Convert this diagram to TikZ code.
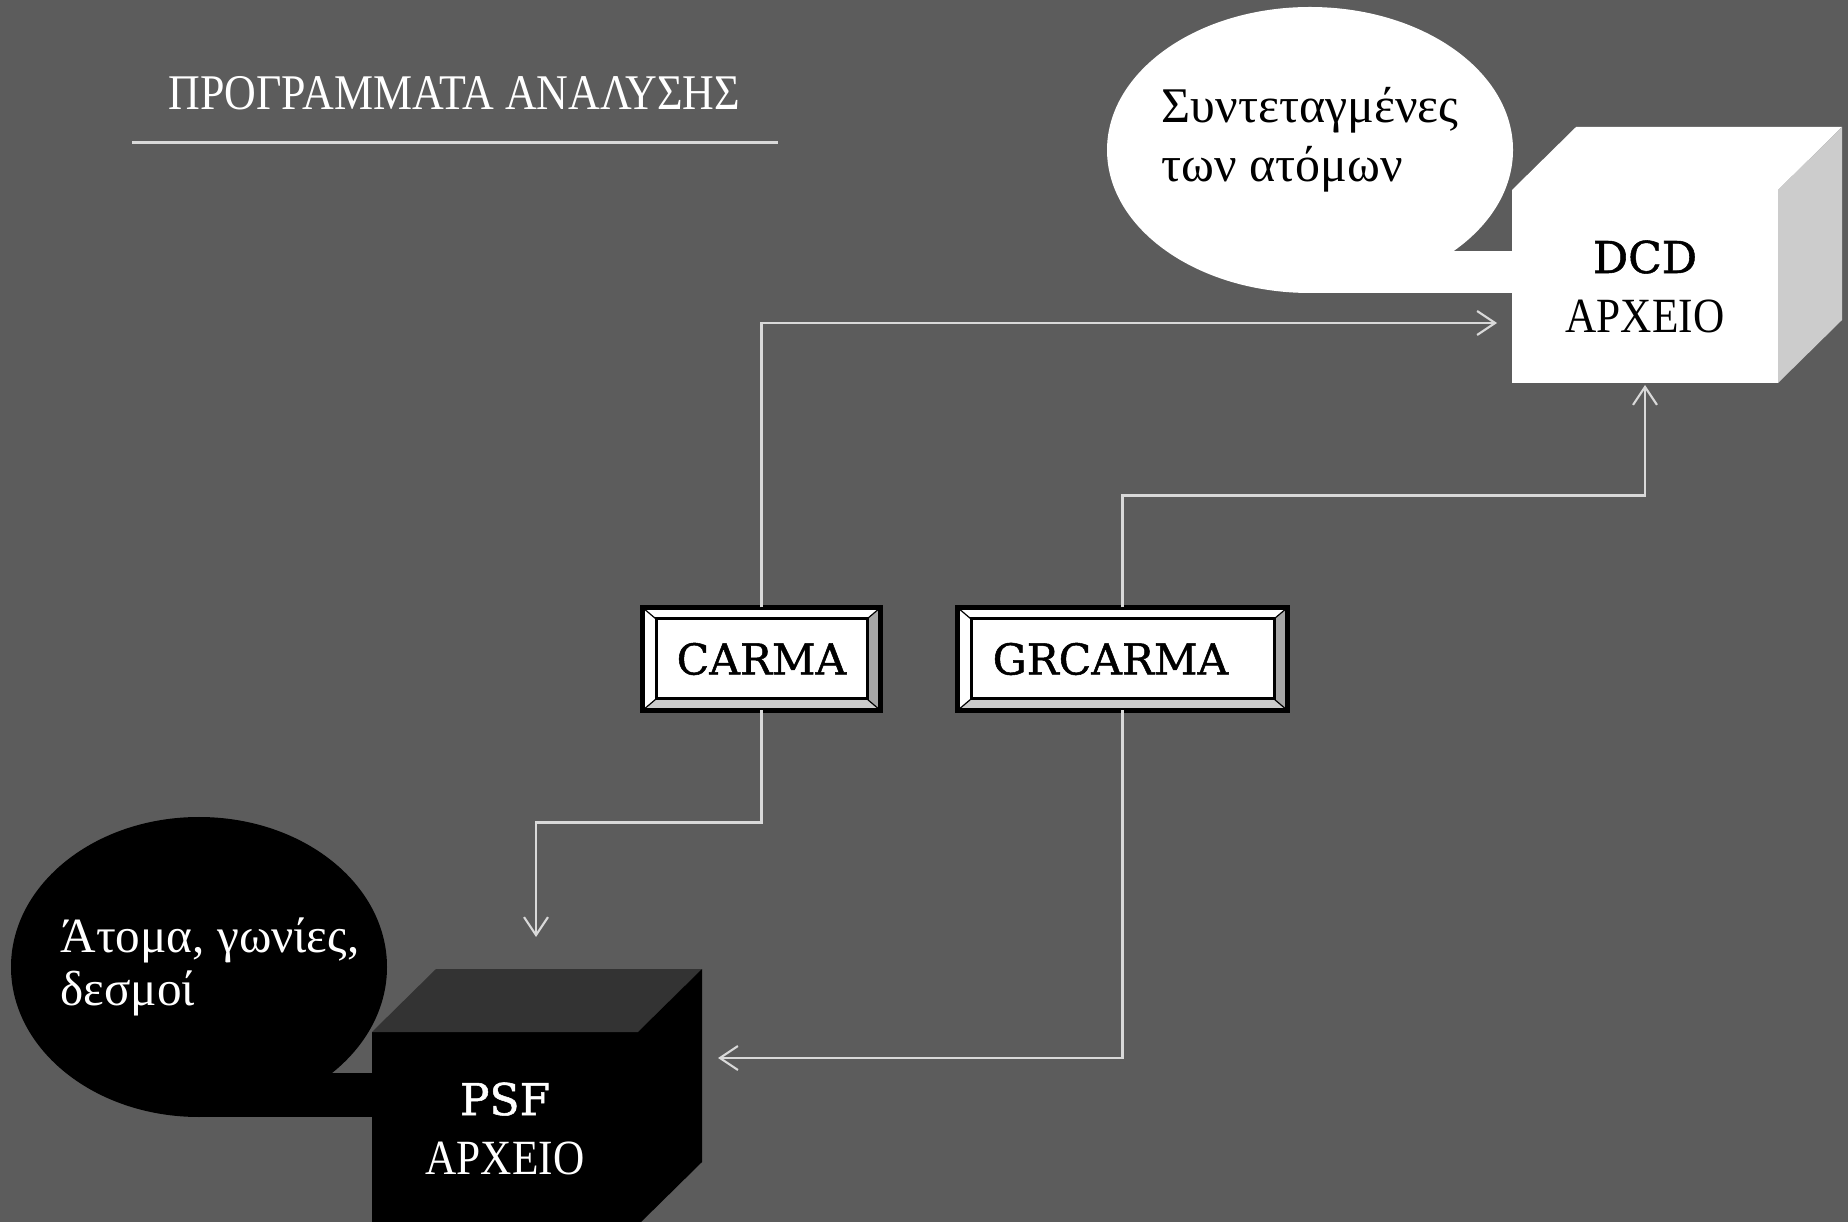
\documentclass[tikz,border=0pt]{standalone}
\usepackage{fontspec}
\setmainfont{Liberation Serif}
\newfontfamily\condfont[FakeStretch=0.88]{Liberation Serif}
\newfontfamily\slabfont[FakeBold=1.2]{DejaVu Serif}
\usetikzlibrary{shapes.geometric, arrows.meta, positioning, calc}

\definecolor{slidebg}{RGB}{92,92,92}
\definecolor{wire}{RGB}{217,217,217}
\definecolor{bevelside}{RGB}{166,166,166}
\definecolor{bevelbottom}{RGB}{204,204,204}
\definecolor{dcdside}{RGB}{204,204,204}
\definecolor{psftop}{RGB}{51,51,51}

\begin{document}
\begin{tikzpicture}[
    progbtn/.style={rectangle, draw=black, fill=white, line width=0.05cm, outer sep=0pt, minimum height=1.03cm, inner sep=0pt, font=\slabfont\fontsize{12.1}{14}\selectfont},
    filebox/.style={rectangle, minimum width=2.66cm, minimum height=1.93cm, inner sep=0pt, outer sep=0pt, align=center, font=\fontsize{14}{16.8}\selectfont},
    bubble/.style={ellipse, inner sep=0pt, outer sep=0pt},
    bubbletext/.style={inner sep=0pt, align=left},
    line/.style={draw=wire, line width=0.6pt, -{Straight Barb[length=1.8mm, width=2.4mm]}}
]
    % Background
    \fill[slidebg] (0,0) rectangle (18.48,-12.22);
    \useasboundingbox (0,0) rectangle (18.48,-12.22);
    \clip (0,0) rectangle (18.48,-12.22);

    % Title
    \node[anchor=base west, inner sep=0pt, text=white, font=\condfont\fontsize{14.2}{17}\selectfont] (title) at (1.68,-1.10) {ΠΡΟΓΡΑΜΜΑΤΑ ΑΝΑΛΥΣΗΣ};
    \draw[wire, line width=0.03cm] (1.32,-1.43) -- (7.78,-1.43);

    % Programs
    \node[progbtn, minimum width=2.38cm] (carma) at (7.615,-6.59) {CARMA};
    \node[progbtn, minimum width=3.30cm, right=0.77cm of carma] (grcarma) {GRCARMA\kern0.24cm};

    \foreach \b in {carma, grcarma} {
        \fill[bevelside] (\b.north east) -- (\b.south east) -- ($(\b.south east)+(-0.135,0.115)$) -- ($(\b.north east)+(-0.135,-0.115)$) -- cycle;
        \fill[bevelbottom] (\b.south west) -- (\b.south east) -- ($(\b.south east)+(-0.135,0.115)$) -- ($(\b.south west)+(0.135,0.115)$) -- cycle;
        \draw[line width=0.012cm] (\b.north west) -- ++(0.135,-0.115) (\b.north east) -- ++(-0.135,-0.115)
            (\b.south west) -- ++(0.135,0.115) (\b.south east) -- ++(-0.135,0.115);
        \draw[line width=0.03cm] ($(\b.south west)+(0.135,0.115)$) rectangle ($(\b.north east)+(-0.135,-0.115)$);
        \draw[line width=0.05cm] (\b.south west) rectangle (\b.north east);
    }

    % Callouts
    \node[bubble, fill=white, minimum width=4.06cm, minimum height=2.86cm] (coords) at (13.10,-1.50) {};
    \node[bubble, fill=black, minimum width=3.76cm, minimum height=3.0cm] (atoms) at (1.99,-9.67) {};

    % Files
    \node[filebox, fill=white] (dcd) at (16.45,-2.865) {{\slabfont\fontsize{12.5}{16.8}\selectfont DCD}\\{\condfont ΑΡΧΕΙΟ}};
    \node[filebox, fill=black, text=white] (psf) at (5.05,-11.285) {{\slabfont\fontsize{12.5}{16.8}\selectfont PSF}\\{\condfont ΑΡΧΕΙΟ}};

    \foreach \f/\topc/\sidec in {dcd/white/dcdside, psf/psftop/black} {
        \fill[\topc] (\f.north west) -- ++(0.64,0.63) -- ($(\f.north east)+(0.64,0.63)$) -- (\f.north east) -- cycle;
        \fill[\sidec] (\f.north east) -- ++(0.64,0.63) -- ($(\f.south east)+(0.64,0.63)$) -- (\f.south east) -- cycle;
    }

    % Callout tails and texts
    \fill[white] ($(coords.south)+(0,0.42)$) rectangle (coords.south -| dcd.west);
    \fill[black] ($(atoms.south)+(0,0.44)$) rectangle (atoms.south -| psf.west);
    \node[bubbletext, font=\fontsize{14.2}{16.8}\selectfont, yshift=0.1cm] (coordstext) at (coords.center) {Συντεταγμένες\\των ατόμων};
    \node[bubbletext, text=white, font=\fontsize{14}{15}\selectfont, xshift=0.11cm] (atomstext) at (atoms.center) {Άτομα, γωνίες,\\δεσμοί};

    % Connectors
    \path[line] (carma.north) |- ([xshift=-0.15cm, yshift=-0.365cm]dcd.west);
    \path[line] (grcarma.north) -- ++(0,1.12) -| ([yshift=-0.02cm]dcd.south);
    \path[line] (carma.south) -- ++(0,-1.12) -| ([xshift=0.31cm, yshift=0.95cm]psf.north);
    \path[line] (grcarma.south) |- ([xshift=0.80cm, yshift=0.705cm]psf.east);

\end{tikzpicture}
\end{document}
